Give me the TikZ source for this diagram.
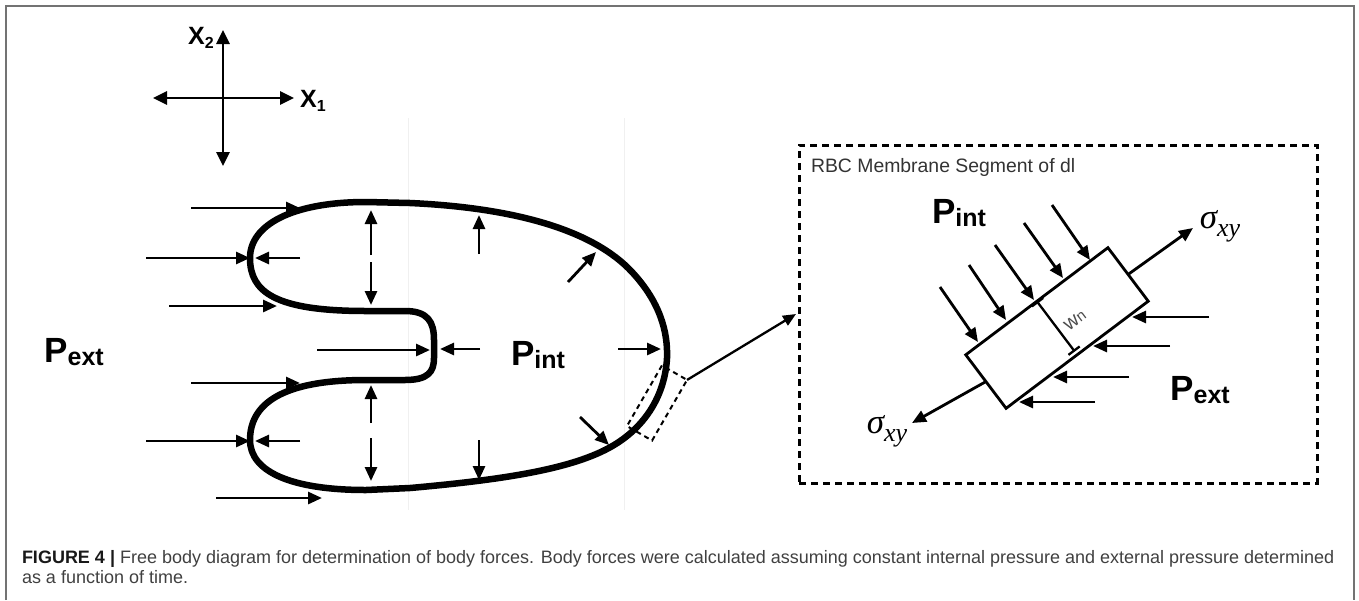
\documentclass[tikz,border=0pt]{standalone}
\usepackage{fontspec}
\setmainfont{Liberation Sans}
\newfontfamily\timesfont{Liberation Serif}
\usetikzlibrary{arrows.meta}
\newcommand{\pLabel}[1]{{\fontsize{35}{35}\selectfont\bfseries P}{\fontsize{25}{25}\selectfont\bfseries\raisebox{-3pt}{#1}}}
\newcommand{\axLabel}[1]{{\fontsize{25}{25}\selectfont\bfseries X}{\fontsize{16}{16}\selectfont\bfseries\raisebox{-4pt}{#1}}}
\newcommand{\sigLabel}[0]{{\timesfont\itshape\fontsize{35}{35}\selectfont σ\raisebox{-8pt}{\fontsize{26}{26}\selectfont xy}}}

\begin{document}
\begin{tikzpicture}[x=1pt,y=-1pt]
  \tikzset{force/.style={line width=2.8pt,-{Triangle[length=14pt,width=12pt]}},
           axis/.style={line width=2.8pt,{Triangle[length=14pt,width=13pt]}-{Triangle[length=14pt,width=13pt]}},
           membrane/.style={line width=6.5pt,line join=round},
           every node/.style={inner sep=0pt,outer sep=0pt}}
  \useasboundingbox (0,0) rectangle (1359,600);
  \draw[black!55,line width=1.5pt] (6,600) -- (6,6) -- (1354,6) -- (1354,600);
  \draw[black!6,line width=0.8pt] (408,118) -- (408,510);
  \draw[black!6,line width=0.8pt] (624,118) -- (624,510);

  \coordinate (x2t) at (223,30);
  \coordinate (x2b) at (223,166);
  \coordinate (x1l) at (153,98);
  \coordinate (x1r) at (294,98);
  \draw[axis] (x2b) -- (x2t);
  \draw[axis] (x1l) -- (x1r);
  \node (x2) at (201,38) {\axLabel{2}};
  \node (x1) at (313,101) {\axLabel{1}};

  \draw[membrane] (366,202) -- (410,203) .. controls (520,208) and (595,232) .. (632,272)
    .. controls (660,302) and (668,332) .. (667,358) .. controls (665,395) and (645,430) .. (605,450)
    .. controls (565,470) and (500,480) .. (410,488) -- (366,490)
    .. controls (292,490) and (250,472) .. (250,440) .. controls (250,405) and (280,380) .. (366,380)
    -- (405,380) .. controls (428,380) and (434,372) .. (434,358) -- (434,340)
    .. controls (434,322) and (428,311) .. (405,311) -- (366,311)
    .. controls (275,311) and (250,292) .. (250,258) .. controls (250,225) and (292,202) .. (366,202) -- cycle;

  \foreach \y/\a/\b [count=\i] in {208/191/300, 258/146/250, 306/169/277, 350/317/430,
                                   383/191/300, 441/146/250, 498/216/322} {
    \coordinate (ext\i) at (\a,\y);
    \coordinate (ext\i h) at (\b,\y);
    \draw[force] (ext\i) -- (ext\i h);
  }
  \foreach \a/\b/\c/\d [count=\i] in {300/258/255/258, 300/441/255/441, 371/255/371/210, 371/262/371/305,
                                      371/423/371/385, 371/438/371/481, 479/254/479/215, 568/282/596/252,
                                      480/349/440/349, 618/349/661/349, 580/417/609/445, 479/440/479/480} {
    \coordinate (int\i) at (\a,\b);
    \coordinate (int\i h) at (\c,\d);
    \draw[force] (int\i) -- (int\i h);
  }
  \node (pext) at (74,352) {\pLabel{ext}};
  \node (pint) at (538,355) {\pLabel{int}};

  \node[draw,dash pattern=on 5pt off 4pt,line width=2pt,rotate=60,
        minimum width=70pt,minimum height=29pt] (dl) at (657,403) {};
  \node[draw,dash pattern=on 7pt off 5pt,line width=3pt,
        minimum width=518pt,minimum height=338pt,outer sep=3pt] (rbc) at (1058,314) {};
  \draw[line width=2.3pt,-{Triangle[length=13pt,width=11pt]}] (dl.south east) -- (rbc.west);
  \node[anchor=west,text=black!80,font=\fontsize{19.4}{19.4}\selectfont] (rbct) at (811,167) {RBC Membrane Segment of dl};

  \node[draw,line width=2.8pt,rotate=37,minimum width=178pt,minimum height=67pt] (seg) at (1057,328) {};
  \foreach \a/\b/\c/\d [count=\i] in {940/287/978/342, 969/265/1006/320, 995/245/1034/300,
                                      1024/223/1063/278, 1052/205/1090/260} {
    \coordinate (pin\i) at (\a,\b);
    \coordinate (pin\i h) at (\c,\d);
    \draw[force] (pin\i) -- (pin\i h);
  }
  \foreach \y/\a/\b [count=\i] in {317/1209/1132, 346/1170/1093, 377/1129/1053, 402/1095/1019} {
    \coordinate (pex\i) at (\a,\y);
    \coordinate (pex\i h) at (\b,\y);
    \draw[force] (pex\i) -- (pex\i h);
  }
  \coordinate (sigr) at (1193,228);
  \coordinate (sigl) at (912,423);
  \draw[force] (seg.east) -- (sigr);
  \draw[force] (seg.west) -- (sigl);
  \node (sigrt) at (1220,226) {\sigLabel};
  \node (siglt) at (887,431) {\sigLabel};
  \draw[line width=2.3pt,{Bar[width=14pt]}-{Bar[width=14pt]},shorten >=4pt] (seg.north) -- (seg.south);
  \node[rotate=37,text=black!70,font=\fontsize{20}{20}\selectfont] (wn) at (1075,320) {w{\fontsize{15}{15}\selectfont n}};
  \node (pint2) at (959,213) {\pLabel{int}};
  \node (pext2) at (1200,390) {\pLabel{ext}};

  \node[anchor=north west,align=left,text=black!75,font=\fontsize{18}{20}\selectfont] (cap) at (22,550)
    {{\color{black!90}\bfseries FIGURE 4 |} Free body diagram for determination of body forces. Body forces were calculated assuming constant internal pressure and external pressure determined\\as a function of time.};
\end{tikzpicture}
\end{document}
